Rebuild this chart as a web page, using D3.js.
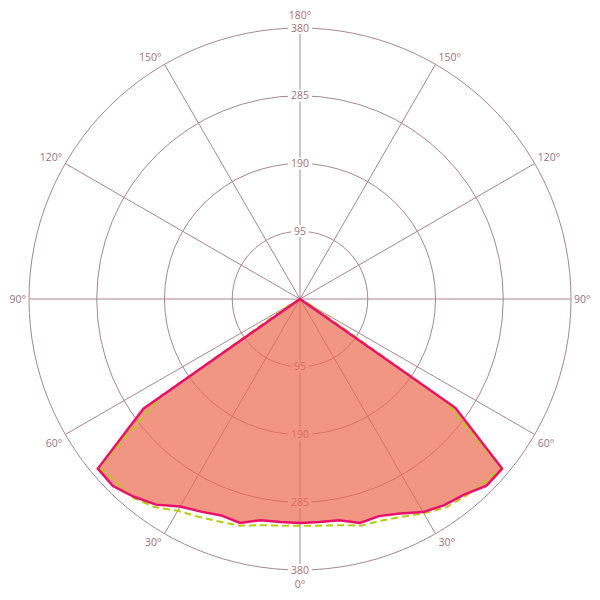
<!DOCTYPE html>
<html>
<head>
<meta charset="utf-8">
<style>
body { margin: 0; background: #fff; }
svg text { font-family: "Open Sans", sans-serif; font-size: 10.5px; fill: #a0707c; }
.grid { fill: none; stroke: #a8848f; stroke-width: 1px; }
</style>
</head>
<body>
<svg width="600" height="600"></svg>
<script src="https://d3js.org/d3.v7.min.js"></script>
<script>
// gamma angles (deg from nadir) and intensities for each half-plane
var gammas = [0, 5, 10, 15, 20, 25, 30, 35, 40, 45, 50, 55, 60, 65, 70, 75, 80, 85, 90];
var solidLeft  = [314, 314, 315, 325, 323, 329, 336, 352, 362, 371, 370, 268, 0, 0, 0, 0, 0, 0, 0];
var solidRight = [314, 314, 315, 325, 324, 332, 345, 353, 358, 370, 370, 266, 0, 0, 0, 0, 0, 0, 0];
var dashLeft   = [318, 319, 322, 329, 332, 337, 343, 356, 364, 364, 367, 238, 18, 0, 0, 0, 0, 0, 0];
var dashRight  = [318, 319, 322, 329, 331, 337, 347, 357, 361, 365, 368, 246, 18, 0, 0, 0, 0, 0, 0];

var ringTicks = [95, 190, 285, 380];
var spokeAngles = [0, 30, 60, 90, 120, 150, 180, 210, 240, 270, 300, 330];

var svg = d3.select("svg"),
    cx = 300, cy = 299, R = 271;

var r = d3.scaleLinear().domain([0, 380]).range([0, R]);

var g = svg.append("g").attr("transform", "translate(" + cx + "," + cy + ")");

// signed gamma (right positive) -> lineRadial angle (0 at top, clockwise)
function toAngle(s) { return Math.PI - s * Math.PI / 180; }
function pt(s, v) {
  var a = toAngle(s);
  return [Math.sin(a) * r(v), -Math.cos(a) * r(v)];
}

// grid
g.selectAll("circle.grid").data(ringTicks).enter().append("circle")
    .attr("class", "grid").attr("r", function(d) { return r(d); });

g.selectAll("line.grid").data(spokeAngles).enter().append("line")
    .attr("class", "grid")
    .attr("x1", 0).attr("y1", 0)
    .attr("x2", function(d) { return pt(d, 380)[0]; })
    .attr("y2", function(d) { return pt(d, 380)[1]; });

// radial tick labels up and down the vertical axis
[180, 0].forEach(function(s) {
  var lab = g.append("g").selectAll("g").data(ringTicks).enter().append("g")
      .attr("transform", function(d) { var p = pt(s, d); return "translate(" + p[0] + "," + p[1] + ")"; });
  lab.append("rect")
      .attr("x", function(d) { return -String(d).length * 3.3 - 2; })
      .attr("width", function(d) { return String(d).length * 6.6 + 4; })
      .attr("y", -6).attr("height", 12).attr("fill", "#fff");
  lab.append("text").attr("text-anchor", "middle").attr("dy", "0.35em")
      .text(function(d) { return d; });
});

// angle labels
var angleLabels = [
  {s: 0, t: "0°", dx: 0, dy: 18, anchor: "middle"},
  {s: 180, t: "180°", dx: 0, dy: -9, anchor: "middle"},
  {s: -30, t: "30°", dx: -3, dy: 12, anchor: "end"},
  {s: -60, t: "60°", dx: -3, dy: 12, anchor: "end"},
  {s: -90, t: "90°", dx: -3, dy: 4, anchor: "end"},
  {s: -120, t: "120°", dx: -3, dy: -3, anchor: "end"},
  {s: -150, t: "150°", dx: -3, dy: -3, anchor: "end"},
  {s: 30, t: "30°", dx: 3, dy: 12, anchor: "start"},
  {s: 60, t: "60°", dx: 3, dy: 12, anchor: "start"},
  {s: 90, t: "90°", dx: 3, dy: 4, anchor: "start"},
  {s: 120, t: "120°", dx: 3, dy: -3, anchor: "start"},
  {s: 150, t: "150°", dx: 3, dy: -3, anchor: "start"}
];
g.selectAll("text.ang").data(angleLabels).enter().append("text")
    .attr("class", "ang")
    .attr("text-anchor", function(d) { return d.anchor; })
    .attr("x", function(d) { return pt(d.s, 380)[0] + d.dx; })
    .attr("y", function(d) { return pt(d.s, 380)[1] + d.dy; })
    .text(function(d) { return d.t; });

// build closed curves: left side from 90 down to 0, then right side 5..90
function curve(left, right) {
  var pts = [];
  for (var i = gammas.length - 1; i >= 0; i--) pts.push({s: -gammas[i], v: left[i]});
  for (var j = 1; j < gammas.length; j++) pts.push({s: gammas[j], v: right[j]});
  return pts;
}

var line = d3.lineRadial()
    .angle(function(d) { return toAngle(d.s); })
    .radius(function(d) { return r(d.v); })
    .curve(d3.curveLinearClosed);

var solid = curve(solidLeft, solidRight);
var dashed = curve(dashLeft, dashRight);

g.append("path").attr("d", line(solid))
    .attr("fill", "#ec6a50").attr("fill-opacity", 0.7).attr("stroke", "none");

g.append("path").attr("d", line(dashed))
    .attr("fill", "none").attr("stroke", "#b4cc10").attr("stroke-width", 2)
    .attr("stroke-dasharray", "7,4");

g.append("path").attr("d", line(solid))
    .attr("fill", "none").attr("stroke", "#e8106a").attr("stroke-width", 2.5)
    .attr("stroke-linejoin", "miter");
</script>
</body>
</html>
